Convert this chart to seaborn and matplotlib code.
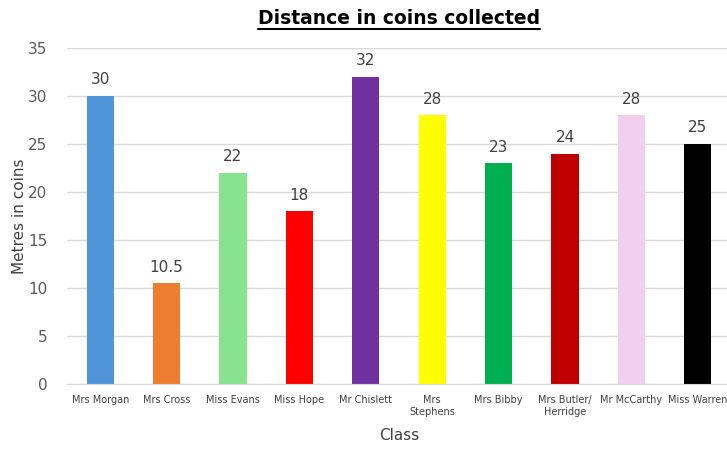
import matplotlib
matplotlib.use("Agg")
import matplotlib.pyplot as plt
import seaborn as sns
import pandas as pd
from matplotlib.lines import Line2D

classes = ["Mrs Morgan", "Mrs Cross", "Miss Evans", "Miss Hope", "Mr Chislett",
           "Mrs\nStephens", "Mrs Bibby", "Mrs Butler/\nHerridge", "Mr McCarthy", "Miss Warren"]
metres = [30, 10.5, 22, 18, 32, 28, 23, 24, 28, 25]
bar_colors = ["#4F94D9", "#ED7D31", "#87E38F", "#FF0000", "#7030A0",
              "#FFFF00", "#00B050", "#C00000", "#F2CEEF", "#000000"]

df = pd.DataFrame({"Class": classes, "Metres": metres})

sns.set_style("white")
plt.rcParams["font.family"] = ["DejaVu Sans"]

fig = plt.figure(figsize=(7.27, 4.5), dpi=100)
ax = fig.add_axes([67 / 727, 1 - 384 / 450, 664 / 727, 336 / 450])

sns.barplot(data=df, x="Class", y="Metres", hue="Class", palette=bar_colors,
            legend=False, width=0.41, saturation=1, linewidth=0, ax=ax)

ax.set_ylim(0, 35)
ax.set_xlim(-0.5, len(classes) - 0.5)
ax.set_yticks(range(0, 36, 5))
ax.grid(axis="y", color="#D9D9D9", linewidth=1)
ax.set_axisbelow(True)
for s in ["left", "right", "top"]:
    ax.spines[s].set_visible(False)
ax.spines["bottom"].set_color("#D9D9D9")
ax.tick_params(axis="y", labelsize=11, labelcolor="#595959", length=0, pad=14)
ax.tick_params(axis="x", labelsize=7, labelcolor="#404040", length=0, pad=8)

for i, v in enumerate(metres):
    ax.text(i, v + 0.9, f"{v:g}", ha="center", va="bottom", fontsize=11, color="#404040")

ax.set_xlabel("Class", fontsize=11, color="#404040", labelpad=8)
ax.set_ylabel("Metres in coins", fontsize=11, color="#404040", labelpad=1)

title = fig.text(399 / 727, 1 - 19 / 450, "Distance in coins collected", ha="center", va="center",
                 fontsize=13.5, fontweight="bold", color="black")
fig.canvas.draw()
bb = title.get_window_extent().transformed(fig.transFigure.inverted())
fig.add_artist(Line2D([bb.x0, bb.x1], [bb.y0 - 0.002, bb.y0 - 0.002], color="black",
                      linewidth=1.5, transform=fig.transFigure))

fig.savefig("out.png", dpi=100)
